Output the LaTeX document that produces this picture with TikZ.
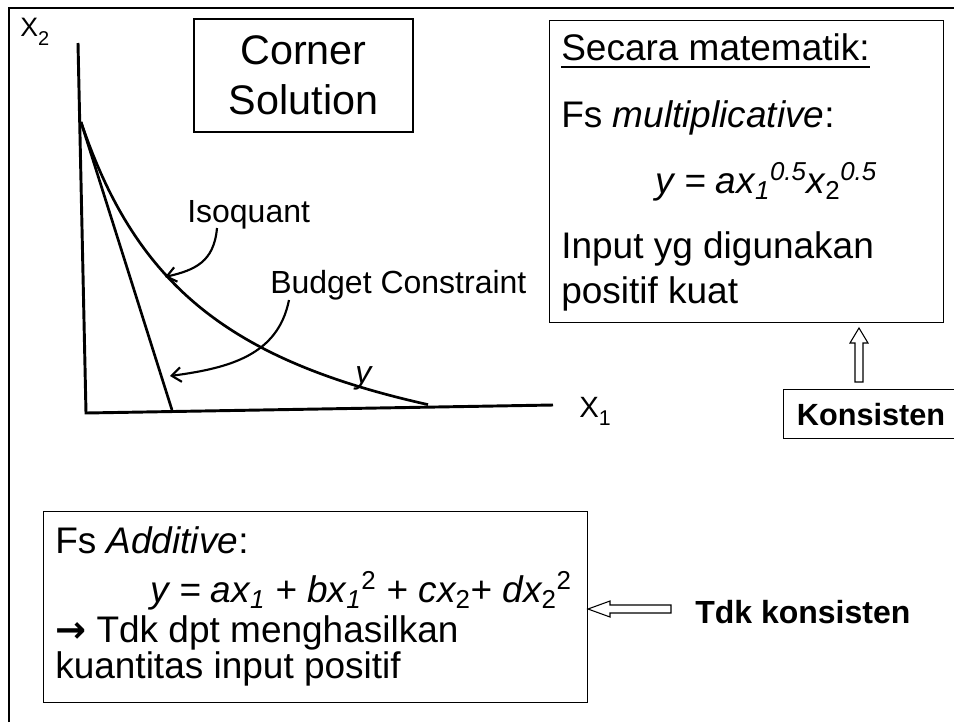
\documentclass[tikz,border=0pt]{standalone}
\usepackage{fontspec}
\setmainfont{Liberation Sans}
\newfontfamily\dejavu{DejaVu Sans}
\usetikzlibrary{arrows.meta}
\newcommand{\fsz}[2]{\fontsize{#1}{#2}\selectfont}
\begin{document}
\begin{tikzpicture}[x=0.75pt,y=-0.75pt,
  txt/.style={inner sep=0pt, anchor=base west, font=\fsz{27.75pt}{33pt}},
  lbl/.style={inner sep=0pt, anchor=base west, font=\fsz{24pt}{28pt}},
  bold/.style={inner sep=0pt, anchor=base west, font=\fsz{24pt}{28pt}\bfseries},
  boxline/.style={draw, line width=0.9pt},
  axis/.style={line width=2.2pt},
  crv/.style={line width=2pt},
  callout/.style={line width=1.6pt, -{Straight Barb[length=7pt,width=11pt,line width=1.6pt]}},
  hollow/.style={draw, line width=0.8pt, fill=white}]
\useasboundingbox (0,0) rectangle (954,722);
% frame
\draw[line width=2pt] (9,722) -- (9,8) -- (954,8);
% axes
\coordinate (ytop) at (78,43);
\coordinate (O) at (86,413);
\coordinate (xend) at (553,405);
\draw[axis] (ytop) -- (O) -- (xend);
\node[inner sep=0pt, anchor=base west, font=\fsz{20pt}{23pt}] (x2) at (20,36) {X\raisebox{-7pt}{\fsz{15pt}{17pt}2}};
\node[inner sep=0pt, anchor=base west, font=\fsz{22pt}{26pt}] (x1) at (579,417) {X\raisebox{-6pt}{\fsz{16pt}{18pt}1}};
% budget line and isoquant
\coordinate (A) at (81,122);
\coordinate (B) at (172,410);
\draw[crv] (A) -- (B);
\draw[crv] plot[domain=81:428, samples=90] (\x, {511.3 - 510/((\x+50)/100)});
% labels and callouts
\node[lbl] (iso) at (187,222) {Isoquant};
\coordinate (isoS) at (217,228);
\coordinate (isoE) at (165,277);
\draw[callout] (isoS) .. controls (214,262) and (195,270) .. (isoE);
\node[lbl] (bc) at (270,293) {Budget Constraint};
\coordinate (bcS) at (289,300);
\coordinate (bcE) at (170,376);
\draw[callout] (bcS) .. controls (278,355) and (230,368) .. (bcE);
\node[lbl, font=\fsz{24pt}{28pt}\itshape] (ylab) at (355,383) {y};
% corner solution box
\node[draw, line width=0.9pt, minimum width=164.25pt, minimum height=84.75pt, inner sep=0pt,
      align=center, font=\fsz{31pt}{37.5pt}] (corner) at (303.5,75.5) {Corner\\Solution};
% right box
\node[boxline, minimum width=295.5pt, minimum height=226.5pt, inner sep=0pt, anchor=north west] (rbox) at (549,20) {};
\node[txt] (sec) at (561,60) {Secara matematik:};
\draw[line width=1.5pt] ([yshift=-5.5pt]sec.base west) -- ([yshift=-5.5pt]sec.base east);
\node[txt] (fs) at (561,127) {Fs \textit{multiplicative}:};
\node[txt] (eq1) at (655,193) {\itshape y = ax\textsubscript{1}\textsuperscript{0.5}x\textsubscript{\upshape 2}\textsuperscript{0.5}};
\node[txt] (inp) at (561,258) {Input yg digunakan};
\node[txt] (pos) at (561,303) {positif kuat};
% konsisten
\node[draw, line width=0.9pt, minimum width=131.25pt, minimum height=36.75pt, inner sep=0pt,
      anchor=north west, font=\fsz{23pt}{27pt}\bfseries] (kon) at (783,389) {Konsisten};
\draw[hollow] (855,382) -- (855,343) -- (850,343) -- (859,328) -- (868,343) -- (863,343) -- (863,382) -- cycle;
% bottom box
\node[boxline, minimum width=408pt, minimum height=143.25pt, inner sep=0pt, anchor=north west] (bbox) at (43,511) {};
\node[txt] (fsa) at (55,553) {Fs \textit{Additive}:};
\node[txt] (eq2) at (150,602) {\itshape y = ax\textsubscript{1} + bx\textsubscript{1}\textsuperscript{\upshape 2} + cx\textsubscript{\upshape 2}+ dx\textsubscript{\upshape 2}\textsuperscript{\upshape 2}};
\node[txt] (tdk) at (55,642) {{\dejavu\bfseries →} Tdk dpt menghasilkan};
\node[txt] (kua) at (55,678) {kuantitas input positif};
% tdk konsisten
\draw[hollow] (671,605) -- (610,605) -- (610,601) -- (588,609) -- (610,617) -- (610,613) -- (671,613) -- cycle;
\node[bold] (tk) at (695,623) {Tdk konsisten};
\end{tikzpicture}
\end{document}
